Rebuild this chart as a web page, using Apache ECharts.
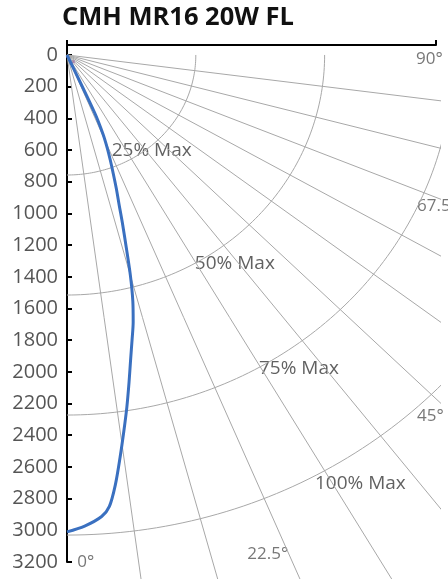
<!DOCTYPE html>
<html>
<head>
<meta charset="utf-8">
<script src="https://cdn.jsdelivr.net/npm/echarts@6/dist/echarts.min.js"></script>
<style>
  html, body { margin: 0; padding: 0; background: #ffffff; }
  #chart { width: 448px; height: 579px; }
</style>
</head>
<body>
<div id="chart"></div>
<script>
// ---------------- data ----------------
const chartTitle = 'CMH MR16 20W FL';
const yTickValues = [0, 200, 400, 600, 800, 1000, 1200, 1400, 1600, 1800, 2000, 2200, 2400, 2600, 2800, 3000, 3200];
// candela distribution: angle from nadir (deg) and intensity (cd)
const curveAngles  = [0, 2, 4, 5, 6, 7, 8, 9, 10, 11, 12, 13, 14, 15, 16, 17, 18, 19, 20, 21, 22, 23, 24, 25];
const curveCandela = [3010, 2975, 2920, 2860, 2725, 2560, 2400, 2250, 2100, 1960, 1840, 1730, 1600, 1440, 1265, 1120, 990, 890, 794, 710, 630, 540, 400, 0];
const markerAngles  = [35, 41];
const markerCandela = [13, 56];
const rayAngles = [7.5, 15, 22.5, 30, 37.5, 45, 52.5, 60, 67.5, 75, 82.5];
const ringPercents = [25, 50, 75, 100];
const ringLabels = ['25% Max', '50% Max', '75% Max', '100% Max'];
const maxCandela = 3030;
const angleLabels = ['0°', '22.5°', '45°', '67.5°', '90°'];

// ---------------- layout ----------------
const X0 = 67, Y0 = 45;              // grid origin in px
const AX_W = 369, AX_H = 517;        // visible axes frame
const X_MAX = 2170, Y_MIN = -63, Y_MAX = 3200;
const SX = AX_W / X_MAX, SY = AX_H / (Y_MAX - Y_MIN);
const CLIP_W = 373, CLIP_H = 600;    // plotting/clip area
const CLIP_XMAX = CLIP_W / SX, CLIP_YMAX = Y_MIN + CLIP_H / SY;
// annotation anchors (data units)
const angleLabelAt = [[61, 3204], [1060, 3148], [2059, 2282], [2059, 951], [2052, 25]];
const ringLabelAt  = [[263, 604], [752, 1318], [1129, 1979], [1458, 2702]];

const rad = d => d * Math.PI / 180;
const polar = (deg, r) => [r * Math.sin(rad(deg)), r * Math.cos(rad(deg))];

const FONT = "'Open Sans', 'Noto Sans', sans-serif";
const series = [];

// rays
rayAngles.forEach(a => {
  series.push({
    type: 'line', xAxisIndex: 1, yAxisIndex: 1, clip: true, silent: true,
    symbol: 'none', lineStyle: { color: '#a8a8a8', width: 1 },
    data: [polar(a, 0), polar(a, 6000)]
  });
});
// rings
ringPercents.forEach(p => {
  const pts = [];
  for (let t = 0; t <= 90; t += 1) pts.push(polar(t, maxCandela * p / 100));
  series.push({
    type: 'line', xAxisIndex: 1, yAxisIndex: 1, clip: true, silent: true,
    symbol: 'none', smooth: false, lineStyle: { color: '#a8a8a8', width: 1 },
    data: pts
  });
});
// candela curve
series.push({
  type: 'line', xAxisIndex: 1, yAxisIndex: 1, clip: true,
  symbol: 'none', smooth: 0.3,
  lineStyle: { color: '#3a70c0', width: 3 },
  data: curveAngles.map((a, i) => polar(a, curveCandela[i]))
});
// tiny markers near origin
series.push({
  type: 'scatter', xAxisIndex: 1, yAxisIndex: 1, clip: false,
  symbol: 'rect', symbolSize: 3, itemStyle: { color: '#9a2f9a' },
  data: markerAngles.map((a, i) => polar(a, markerCandela[i]))
});
// ring labels
series.push({
  type: 'scatter', xAxisIndex: 0, yAxisIndex: 0, clip: false, silent: true,
  symbolSize: 0,
  label: { show: true, position: 'inside', align: 'left', verticalAlign: 'middle',
           formatter: p => p.name, fontFamily: FONT, fontSize: 19, color: '#3a3a3a' },
  data: ringLabels.map((n, i) => ({ name: n, value: ringLabelAt[i] }))
});
// angle labels
series.push({
  type: 'scatter', xAxisIndex: 0, yAxisIndex: 0, clip: false, silent: true,
  symbolSize: 0,
  label: { show: true, position: 'inside', align: 'left', verticalAlign: 'middle',
           formatter: p => p.name, fontFamily: FONT, fontSize: 17, color: '#555555' },
  data: angleLabels.map((n, i) => ({ name: n, value: angleLabelAt[i] }))
});

const option = {
  animation: false,
  backgroundColor: '#ffffff',
  title: {
    text: chartTitle, left: 62, top: 5, padding: 0,
    textStyle: { fontFamily: FONT, fontSize: 25.5, fontWeight: 700, color: '#111111' }
  },
  grid: [
    { left: X0, top: Y0, width: AX_W, height: AX_H, outerBoundsMode: 'none', containLabel: false },
    { left: X0, top: Y0, width: CLIP_W, height: CLIP_H, outerBoundsMode: 'none', containLabel: false }
  ],
  xAxis: [
    { type: 'value', gridIndex: 0, position: 'top', min: 0, max: X_MAX,
      axisLine: { show: true, onZero: false, lineStyle: { color: '#000', width: 2 } },
      axisTick: { show: true, inside: false, length: 5, customValues: [0, X_MAX], lineStyle: { color: '#000', width: 2 } },
      axisLabel: { show: false }, splitLine: { show: false } },
    { type: 'value', gridIndex: 1, min: 0, max: CLIP_XMAX, show: false, splitLine: { show: false } }
  ],
  yAxis: [
    { type: 'value', gridIndex: 0, inverse: true, min: Y_MIN, max: Y_MAX,
      axisLine: { show: true, onZero: false, lineStyle: { color: '#000', width: 2 } },
      axisTick: { show: true, inside: true, length: 5, customValues: yTickValues, lineStyle: { color: '#000', width: 2 } },
      axisLabel: { show: true, customValues: yTickValues, margin: 9, fontFamily: FONT, fontSize: 20, color: '#555555',
                   padding: [0, 0, 6, 0], formatter: v => String(v) },
      splitLine: { show: false } },
    { type: 'value', gridIndex: 1, inverse: true, min: Y_MIN, max: CLIP_YMAX, show: false, splitLine: { show: false } }
  ],
  series: series
};

const chart = echarts.init(document.getElementById('chart'), null, { renderer: 'canvas' });
chart.setOption(option);
</script>
</body>
</html>
